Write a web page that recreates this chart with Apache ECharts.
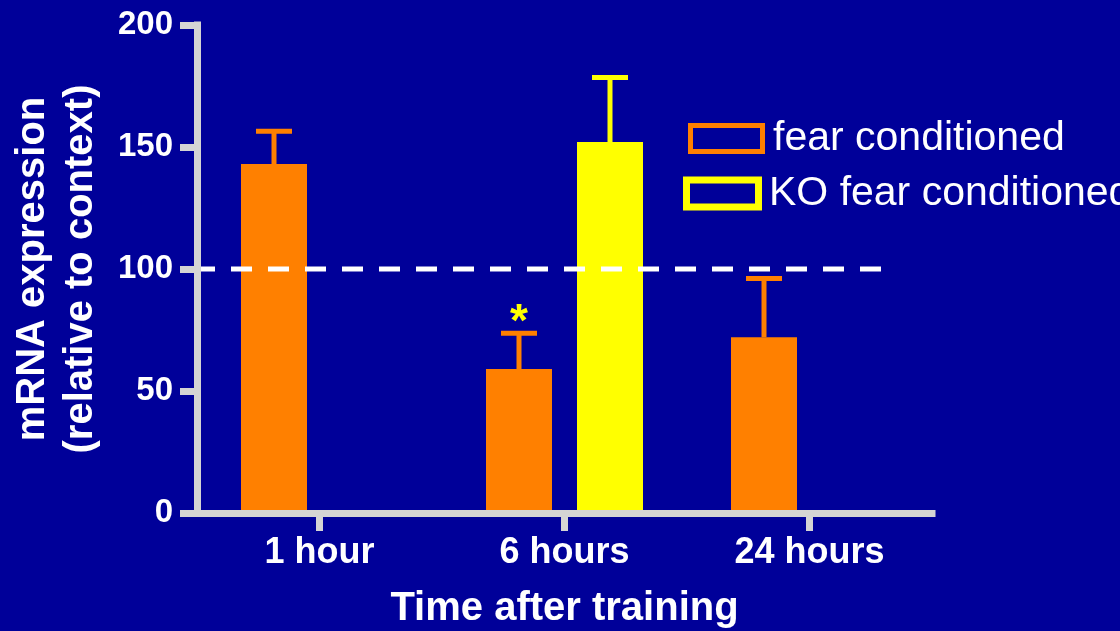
<!DOCTYPE html>
<html><head><meta charset="utf-8">
<script src="https://cdn.jsdelivr.net/npm/echarts@6/dist/echarts.min.js"></script>
<style>html,body{margin:0;padding:0;background:#000099;}#c{width:1120px;height:631px;}</style>
</head><body><div id="c"></div>
<script>
// ---- data ----
const categories = ['1 hour', '6 hours', '24 hours'];
const fearConditioned = [143, 59, 72];
const fearConditionedErr = [13.5, 14.7, 24.1];
const koFearConditioned = [0, 152, '-'];
const koFearConditionedErr = [0, 26.5, '-'];
const significance = ['', '*', ''];
const yTicks = [0, 50, 100, 150, 200];
const referenceValue = 100;
const referenceExtent = [0, 2.81];   // in category-band units

// ---- style ----
const BG = '#000099', AXIS = '#D4D4D4', ORANGE = '#FF8000', YELLOW = '#FFFF00';
const FONT = '"Liberation Sans", Arial, sans-serif';
const BAR_W = 66, GAP_PX = 25, STEM = 5, CAP = 36, CAP_T = 5;

function errorSeries(vals, errs, color, side, marks) {
  const data = [];
  vals.forEach((v, i) => {
    if (v === '-' || errs[i] === '-' || !errs[i]) return;
    data.push([i, v, v + errs[i], marks ? marks[i] : '']);
  });
  return {
    type: 'custom', silent: true, z: 5, xAxisIndex: 0, yAxisIndex: 0,
    encode: { x: 0, y: [1, 2] },
    data: data.map(d => [d[0], d[1], d[2]]),
    renderItem(params, api) {
      const i = api.value(0);
      const base = api.coord([i, api.value(1)]);
      const top = api.coord([i, api.value(2)]);
      const cx = base[0] + side * (BAR_W + GAP_PX) / 2;
      const children = [
        { type: 'rect', shape: { x: cx - STEM / 2, y: top[1], width: STEM, height: base[1] - top[1] }, style: { fill: color } },
        { type: 'rect', shape: { x: cx - CAP / 2, y: top[1] - CAP_T / 2, width: CAP, height: CAP_T }, style: { fill: color } }
      ];
      const mark = data[params.dataIndex][3];
      if (mark) {
        children.push({ type: 'text', x: cx, y: top[1] - 10,
          style: { text: mark, fill: YELLOW, font: 'bold 46px ' + FONT, align: 'center', verticalAlign: 'middle' } });
      }
      return { type: 'group', children };
    }
  };
}

const chart = echarts.init(document.getElementById('c'), null, { renderer: 'canvas' });
chart.setOption({
  backgroundColor: BG,
  animation: false,
  textStyle: { fontFamily: FONT },
  grid: { left: 197, top: 25, width: 735, height: 488, containLabel: false, outerBoundsMode: 'none' },
  legend: [
    { data: [{ name: 'fear conditioned', icon: 'path://M0,0H77V31H0Z M5,5V26H72V5Z' }],
      left: 688, top: 118, itemWidth: 77, itemHeight: 31, padding: 0, selectedMode: false,
      textStyle: { color: '#fff', fontSize: 41, fontFamily: FONT, padding: [0, 0, 0, 3] } },
    { data: [{ name: 'KO fear conditioned', icon: 'path://M0,0H79V34H0Z M7,7V27H72V7Z' }],
      left: 683, top: 173, itemWidth: 79, itemHeight: 34, padding: 0, selectedMode: false,
      textStyle: { color: '#fff', fontSize: 41, fontFamily: FONT, padding: [0, 0, 0, 2] } }
  ],
  xAxis: [
    { type: 'category', data: categories, z: 10,
      axisLine: { show: true, lineStyle: { color: AXIS, width: 7, cap: 'square' } },
      axisTick: { show: true, alignWithLabel: true, length: 18, lineStyle: { color: AXIS, width: 7 } },
      axisLabel: { color: '#fff', fontSize: 36, fontWeight: 'bold', fontFamily: FONT, margin: 22 },
      splitLine: { show: false },
      name: 'Time after training', nameLocation: 'middle', nameGap: 76,
      nameTextStyle: { color: '#fff', fontSize: 40, fontWeight: 'bold', fontFamily: FONT } },
    { type: 'value', min: 0, max: categories.length, show: false }
  ],
  yAxis: {
    type: 'value', min: yTicks[0], max: yTicks[yTicks.length - 1], interval: yTicks[1] - yTicks[0], z: 10,
    axisLine: { show: true, lineStyle: { color: AXIS, width: 7, cap: 'square' } },
    axisTick: { show: true, length: 17, lineStyle: { color: AXIS, width: 7 } },
    splitLine: { show: false },
    axisLabel: { color: '#fff', fontSize: 33, fontWeight: 'bold', fontFamily: FONT, margin: 24 },
    name: 'mRNA expression\n(relative to context)', nameLocation: 'middle', nameRotate: 90, nameGap: 92,
    nameTextStyle: { color: '#fff', fontSize: 40, fontWeight: 'bold', fontFamily: FONT, lineHeight: 48 }
  },
  series: [
    { type: 'bar', name: 'fear conditioned', data: fearConditioned, barWidth: BAR_W, barGap: (GAP_PX / BAR_W * 100) + '%',
      itemStyle: { color: ORANGE } },
    { type: 'bar', name: 'KO fear conditioned', data: koFearConditioned, barWidth: BAR_W, barGap: (GAP_PX / BAR_W * 100) + '%',
      itemStyle: { color: YELLOW } },
    errorSeries(fearConditioned, fearConditionedErr, ORANGE, -1, significance),
    errorSeries(koFearConditioned, koFearConditionedErr, YELLOW, 1, null),
    { type: 'line', xAxisIndex: 1, yAxisIndex: 0, silent: true, z: 6, symbol: 'none',
      data: referenceExtent.map(x => [x, referenceValue]),
      lineStyle: { color: '#fff', width: 5, type: [21, 16], dashOffset: 3 } }
  ]
});
</script></body></html>
